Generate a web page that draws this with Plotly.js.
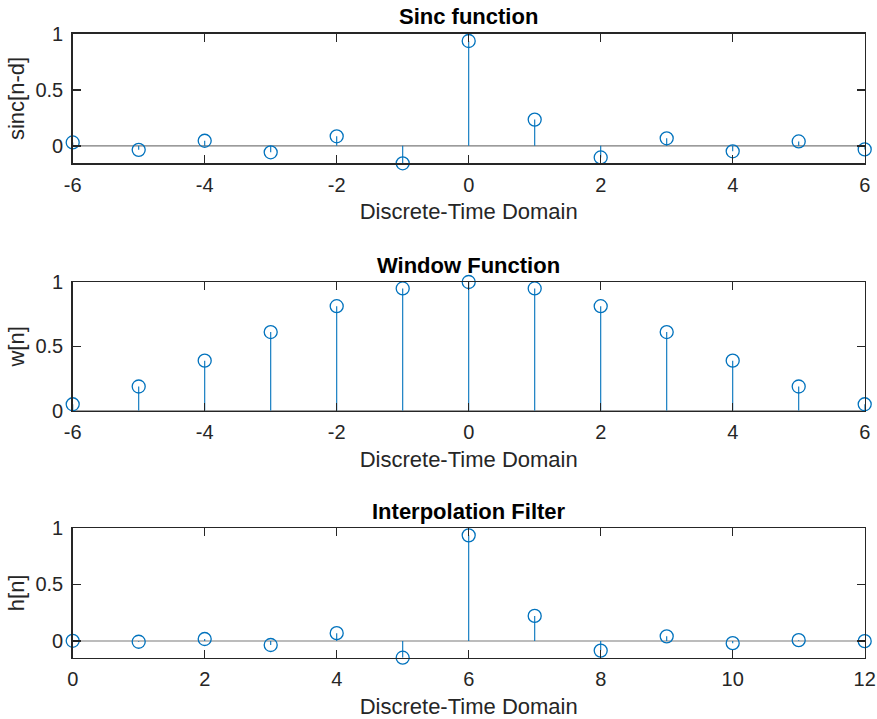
<!DOCTYPE html>
<html>
<head>
<meta charset="utf-8">
<script src="https://cdn.plot.ly/plotly-3.0.1.min.js"></script>
<style>html,body{margin:0;padding:0;background:#fff;}#chart{width:877px;height:719px;}</style>
</head>
<body>
<div id="chart"></div>
<script>
// ---- data ----
var n1 = [-6, -5, -4, -3, -2, -1, 0, 1, 2, 3, 4, 5, 6];
var sincVals = [0.030, -0.036, 0.045, -0.058, 0.085, -0.156, 0.935, 0.234, -0.104, 0.067, -0.049, 0.039, -0.032];
var n2 = [-6, -5, -4, -3, -2, -1, 0, 1, 2, 3, 4, 5, 6];
var windowVals = [0.050, 0.188, 0.389, 0.611, 0.812, 0.950, 1.000, 0.950, 0.812, 0.611, 0.389, 0.188, 0.050];
var n3 = [0, 1, 2, 3, 4, 5, 6, 7, 8, 9, 10, 11, 12];
var filterVals = [0.0015, -0.0068, 0.0173, -0.0357, 0.069, -0.148, 0.935, 0.222, -0.085, 0.041, -0.019, 0.0073, -0.0016];

var titles = ['Sinc function', 'Window Function', 'Interpolation Filter'];
var yTitles = ['sinc[n-d]', 'w[n]', 'h[n]'];
var xTitle = 'Discrete-Time Domain';
var xTicks1 = [-6, -4, -2, 0, 2, 4, 6];
var xTickText1 = ['-6', '-4', '-2', '0', '2', '4', '6'];
var xTicks3 = [0, 2, 4, 6, 8, 10, 12];
var xTickText3 = ['0', '2', '4', '6', '8', '10', '12'];
var yTicks = [0, 0.5, 1];
var yTickText = ['0', '0.5', '1'];

// ---- styling ----
var blue = '#0072BD';
var axc = '#262626';
var FONT = '"Liberation Sans", Arial, Helvetica, sans-serif';
var W = 877, H = 719;

function stemXY(xs, ys) {
  var sx = [], sy = [];
  for (var i = 0; i < xs.length; i++) { sx.push(xs[i], xs[i], null); sy.push(0, ys[i], null); }
  return {x: sx, y: sy};
}

var sets = [
  {x: n1, y: sincVals, xr: [-6, 6], yr: [Math.min.apply(null, sincVals), 1], xt: xTicks1, xtt: xTickText1},
  {x: n2, y: windowVals, xr: [-6, 6], yr: [0, 1], xt: xTicks1, xtt: xTickText1},
  {x: n3, y: filterVals, xr: [0, 12], yr: [Math.min.apply(null, filterVals), 1], xt: xTicks3, xtt: xTickText3}
];

// pixel boxes of the three axes (top, bottom)
var boxes = [[33.7, 163.3], [282, 410.7], [528, 657.7]];
var left = 72.7, right = 864.7;

var data = [], layout = {
  width: W, height: H,
  margin: {l: 0, r: 0, t: 0, b: 0},
  paper_bgcolor: '#fff', plot_bgcolor: '#fff',
  showlegend: false,
  font: {family: FONT, color: axc},
  annotations: [], shapes: []
};

sets.forEach(function (s, i) {
  var k = i === 0 ? '' : String(i + 1);
  var xa = 'x' + k, ya = 'y' + k;
  var st = stemXY(s.x, s.y);
  data.push({x: st.x, y: st.y, xaxis: xa, yaxis: ya, mode: 'lines', type: 'scatter',
    line: {color: blue, width: 1.1}, hoverinfo: 'skip', cliponaxis: false});
  data.push({x: s.x, y: s.y, xaxis: xa, yaxis: ya, mode: 'markers', type: 'scatter',
    marker: {symbol: 'circle-open', size: 13, color: blue, line: {width: 1.3, color: blue}},
    cliponaxis: false});
  var ax = {
    domain: [left / W, right / W], range: s.xr, tickmode: 'array', tickvals: s.xt, ticktext: s.xtt,
    ticks: 'inside', ticklen: 8, tickwidth: 1.5, tickcolor: axc,
    showline: true, linecolor: axc, linewidth: 1.5, mirror: 'ticks',
    showgrid: false, zeroline: false, anchor: ya, automargin: false,
    tickfont: {family: FONT, size: 20, color: axc}, ticklabelstandoff: 3,
    title: {text: xTitle, font: {family: FONT, size: 22, color: axc}, standoff: 9}
  };
  var ay = {
    domain: [1 - boxes[i][1] / H, 1 - boxes[i][0] / H], range: s.yr,
    tickmode: 'array', tickvals: yTicks, ticktext: yTickText,
    ticks: 'inside', ticklen: 8, tickwidth: 1.5, tickcolor: axc,
    showline: true, linecolor: axc, linewidth: 1.5, mirror: 'ticks',
    showgrid: false, zeroline: false, anchor: xa, automargin: false,
    tickfont: {family: FONT, size: 20, color: axc}, ticklabelstandoff: 4,
    title: {text: yTitles[i], font: {family: FONT, size: 22, color: axc}, standoff: 4}
  };
  layout['xaxis' + k] = ax;
  layout['yaxis' + k] = ay;
  // stem baseline at y = 0
  layout.shapes.push({type: 'line', xref: xa + ' domain', yref: ya, x0: 0, x1: 1, y0: 0, y1: 0,
    line: {color: '#7a7a7a', width: 1.2}, layer: 'below'});
  layout.annotations.push({text: '<b>' + titles[i] + '</b>', xref: 'paper', yref: 'paper',
    x: (left + right) / 2 / W, y: 1 - (boxes[i][0] - 17) / H, xanchor: 'center', yanchor: 'middle',
    showarrow: false, font: {family: FONT, size: 22, color: '#000'}});
});

Plotly.newPlot('chart', data, layout, {displayModeBar: false, staticPlot: true});
</script>
</body>
</html>
